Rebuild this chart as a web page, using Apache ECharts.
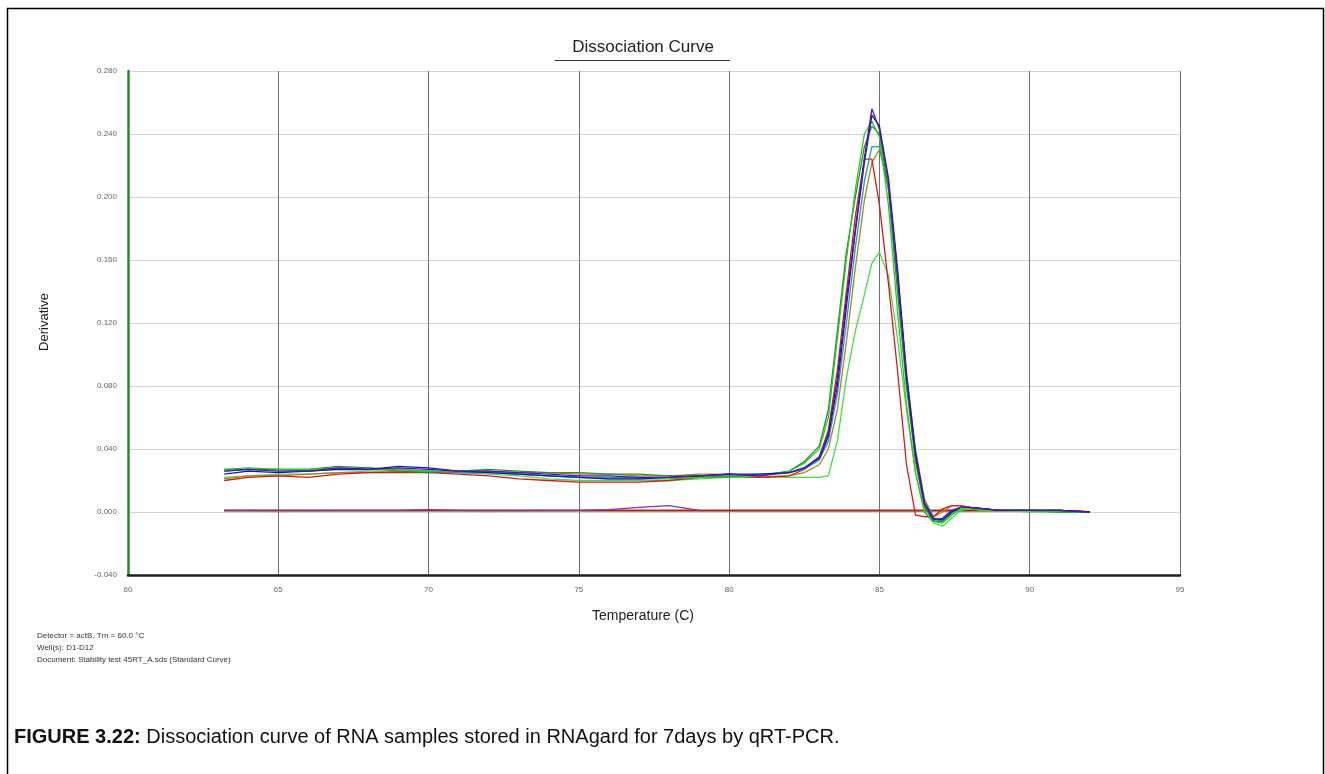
<!DOCTYPE html>
<html>
<head>
<meta charset="utf-8">
<script src="https://cdn.jsdelivr.net/npm/echarts@6/dist/echarts.min.js"></script>
<style>
html,body{margin:0;padding:0;background:#fff;}
#chart{width:1325px;height:774px;}
</style>
</head>
<body>
<div id="chart"></div>
<script>
// Temperature grid (C)
var temps = [63.2, 64, 65, 66, 67, 68, 69, 70, 71, 72, 73, 74, 75, 76, 77, 78, 79, 80, 81, 82, 82.5, 83, 83.3, 83.6, 83.9, 84.2, 84.5, 84.75, 85.0, 85.3, 85.6, 85.9, 86.2, 86.5, 86.8, 87.1, 87.4, 87.7, 88, 88.5, 89, 90, 91, 92];

// Derivative values per well (peak group)
var purplePeak = [0.026,0.027,0.026,0.026,0.028,0.027,0.028,0.027,0.026,0.026,0.025,0.024,0.023,0.023,0.022,0.022,0.023,0.024,0.023,0.025,0.028, 0.035,0.050,0.085,0.135,0.180,0.225,0.256,0.243,0.210,0.150,0.085,0.035,0.005,-0.005,-0.004,0.001,0.003,0.003,0.002,0.001,0.001,0.001,0.000];
var bluePeak = [0.024,0.026,0.025,0.026,0.027,0.027,0.029,0.028,0.026,0.025,0.024,0.023,0.022,0.021,0.021,0.022,0.023,0.024,0.024,0.025,0.028, 0.034,0.048,0.080,0.130,0.178,0.222,0.252,0.245,0.212,0.155,0.088,0.038,0.006,-0.004,-0.005,0.000,0.003,0.003,0.002,0.001,0.001,0.001,0.000];
var greenPeak = [0.027,0.028,0.027,0.027,0.028,0.027,0.027,0.026,0.026,0.026,0.024,0.023,0.022,0.021,0.021,0.021,0.022,0.022,0.023,0.026,0.031, 0.040,0.060,0.110,0.160,0.205,0.240,0.248,0.238,0.195,0.128,0.068,0.025,0.000,-0.006,-0.007,-0.002,0.002,0.002,0.001,0.001,0.001,0.000,0.000];
var darkGreenPeak = [0.026,0.027,0.027,0.027,0.029,0.028,0.026,0.025,0.026,0.027,0.026,0.025,0.025,0.024,0.024,0.023,0.023,0.024,0.023,0.026,0.032, 0.042,0.065,0.115,0.165,0.200,0.232,0.245,0.240,0.205,0.140,0.080,0.032,0.003,-0.006,-0.006,-0.001,0.003,0.003,0.002,0.001,0.001,0.000,0.000];
var tealPeak = [0.027,0.027,0.027,0.026,0.027,0.028,0.027,0.026,0.025,0.025,0.024,0.023,0.022,0.022,0.022,0.022,0.023,0.023,0.024,0.025,0.027, 0.033,0.045,0.075,0.120,0.168,0.210,0.232,0.232,0.205,0.148,0.082,0.035,0.004,-0.006,-0.005,0.000,0.003,0.003,0.002,0.001,0.001,0.000,0.000];
var olivePeak = [0.021,0.023,0.023,0.024,0.025,0.025,0.026,0.025,0.026,0.026,0.025,0.025,0.024,0.024,0.023,0.023,0.024,0.024,0.022,0.023,0.025, 0.030,0.040,0.065,0.108,0.155,0.198,0.222,0.230,0.208,0.152,0.088,0.040,0.008,-0.003,0.000,0.004,0.004,0.003,0.002,0.001,0.001,0.001,0.000];
var redPeak = [0.020,0.022,0.023,0.022,0.024,0.025,0.025,0.025,0.024,0.023,0.021,0.020,0.019,0.019,0.019,0.020,0.022,0.023,0.022,0.023,0.027, 0.035,0.052,0.090,0.140,0.188,0.224,0.224,0.195,0.145,0.090,0.030,-0.002,-0.003,-0.003,0.002,0.004,0.004,0.003,0.002,0.001,0.001,0.001,0.000];
var lightGreenPeak = [0.022,0.023,0.024,0.024,0.025,0.026,0.026,0.026,0.025,0.024,0.023,0.021,0.020,0.020,0.020,0.020,0.021,0.022,0.022,0.022,0.022, 0.022,0.023,0.045,0.085,0.115,0.138,0.158,0.165,0.150,0.110,0.065,0.025,0.000,-0.007,-0.009,-0.004,0.001,0.002,0.001,0.001,0.000,0.000,0.000];

// Near-zero group (no product)
var blueFlat = [0.001,0.001,0.001,0.001,0.001,0.001,0.001,0.001,0.001,0.001,0.001,0.001,0.001,0.001,0.001,0.001,0.001,0.001,0.001,0.001,0.001,0.001,0.001,0.001,0.001,0.001,0.001,0.001,0.001,0.001,0.001,0.001,0.001,0.001,0.001,0.001,0.001,0.001,0.001,0.001,0.001,0.001,0.001,0.000];
var purpleFlat = [0.001,0.001,0.001,0.001,0.001,0.001,0.001,0.001,0.001,0.001,0.001,0.001,0.001,0.0015,0.003,0.004,0.001,null,null,null,null,null,null,null,null,null,null,null,null,null,null,null,null,null,null,null,null,null,null,null,null,null,null,null];
var redFlat = [0.001,0.001,0.001,0.001,0.001,0.001,0.001,0.0015,0.001,0.001,0.001,0.001,0.001,0.001,0.001,0.001,0.001,0.001,0.001,0.001,0.001,0.001,0.001,0.001,0.001,0.001,0.001,0.001,0.001,0.001,0.001,0.001,0.001,0.001,0.001,0.001,0.001,0.001,0.001,0.001,0.001,0.001,0.001,0.000];
var oliveFlat = [0.0005,0.0005,0.0003,0.0005,0.0005,0.0005,0.0005,0.0005,0.0005,0.0003,0.0005,0.0005,0.0005,0.0005,0.0005,0.0005,0.0005,0.0005,0.0005,0.0005,0.0005,0.0005,0.0005,0.0005,0.0005,0.0005,0.0005,0.0005,0.0005,0.0005,0.0005,0.0005,0.0005,0.0005,0.0005,0.0005,0.0005,0.0005,0.0005,0.0005,0.0005,0.0005,0.0005,0.0003];
var greyFlat = [0.0008,0.0008,0.0008,0.0005,0.0008,0.0008,0.0008,0.0008,0.0008,0.0008,0.0005,0.0008,0.0008,0.0008,0.0008,0.0008,0.0008,0.0005,0.0005,0.0005,0.0005,0.0005,0.0005,0.0005,0.0005,0.0005,0.0005,0.0005,0.0005,0.0005,0.0005,0.0005,0.0005,0.0005,0.0005,0.0005,0.0005,0.0005,0.0005,0.0008,0.0008,0.0005,0.0005,0.0003];

var xTicks = {min: 60, max: 95, interval: 5};
var yTicks = {min: -0.04, max: 0.28, interval: 0.04};

var wells = [
  {name: 'D-flat1', data: blueFlat, color: '#2a2a9a'},
  {name: 'D-flat2', data: greyFlat, color: '#5a7a5a'},
  {name: 'D-flat3', data: oliveFlat, color: '#a09030'},
  {name: 'D-flat4', data: redFlat, color: '#c01030'},
  {name: 'D-flat5', data: purpleFlat, color: '#9030a0'},
  {name: 'D-lightgreen', data: lightGreenPeak, color: '#44dd44'},
  {name: 'D-olive', data: olivePeak, color: '#a8861a'},
  {name: 'D-red', data: redPeak, color: '#d81818'},
  {name: 'D-teal', data: tealPeak, color: '#1aa0a0'},
  {name: 'D-darkgreen', data: darkGreenPeak, color: '#2e8b2e'},
  {name: 'D-green', data: greenPeak, color: '#22cc22'},
  {name: 'D-blue', data: bluePeak, color: '#1414c8'},
  {name: 'D-purple', data: purplePeak, color: '#5a10a8'}
];

function pairs(arr) {
  var out = [];
  for (var i = 0; i < temps.length; i++) {
    out.push(arr[i] === null ? [temps[i], null] : [temps[i], arr[i]]);
  }
  return out;
}

var chart = echarts.init(document.getElementById('chart'), null, {renderer: 'canvas'});
var font = 'Arial, "Liberation Sans", Helvetica, sans-serif';

var option = {
  animation: false,
  backgroundColor: '#fff',
  grid: {left: 128, right: 145, top: 71, bottom: 199, containLabel: false},
  xAxis: {
    type: 'value',
    min: xTicks.min, max: xTicks.max, interval: xTicks.interval,
    axisLine: {show: true, onZero: false, lineStyle: {color: '#222', width: 2.5}},
    axisTick: {show: false},
    axisLabel: {color: '#666', fontSize: 8, fontFamily: font, margin: 11},
    splitLine: {show: true, lineStyle: {color: '#707070', width: 1}}
  },
  yAxis: {
    type: 'value',
    min: yTicks.min, max: yTicks.max, interval: yTicks.interval,
    axisLine: {show: true, onZero: false, lineStyle: {color: '#2a8a2a', width: 2.5}},
    axisTick: {show: false},
    axisLabel: {color: '#666', fontSize: 8, fontFamily: font, margin: 11,
      formatter: function (v) { return v.toFixed(3); }},
    splitLine: {show: true, lineStyle: {color: '#d4d4d4', width: 1}}
  },
  series: wells.map(function (w) {
    return {
      name: w.name,
      type: 'line',
      data: pairs(w.data),
      showSymbol: false,
      symbol: 'none',
      connectNulls: false,
      lineStyle: {color: w.color, width: 1.3},
      itemStyle: {color: w.color},
      z: 3
    };
  }),
  graphic: [
    {type: 'rect', shape: {x: 7.5, y: 8.5, width: 1316, height: 800},
     style: {fill: 'none', stroke: '#000', lineWidth: 1.5}, silent: true, z: 0},
    {type: 'text', x: 643, y: 47, style: {text: 'Dissociation Curve', font: '17px ' + font,
      fill: '#222', textAlign: 'center', textVerticalAlign: 'middle'}},
    {type: 'line', shape: {x1: 555, y1: 60.5, x2: 730, y2: 60.5}, style: {stroke: '#333', lineWidth: 1}},
    {type: 'text', x: 44, y: 322, rotation: Math.PI / 2, style: {text: 'Derivative', font: '13px ' + font,
      fill: '#222', textAlign: 'center', textVerticalAlign: 'middle'}},
    {type: 'text', x: 643, y: 616, style: {text: 'Temperature (C)', font: '14px ' + font,
      fill: '#222', textAlign: 'center', textVerticalAlign: 'middle'}},
    {type: 'text', x: 37, y: 636, style: {text: 'Detector = actB, Tm = 60.0 \u00B0C', font: '8px ' + font,
      fill: '#333', textVerticalAlign: 'middle'}},
    {type: 'text', x: 37, y: 648, style: {text: 'Well(s): D1-D12', font: '8px ' + font,
      fill: '#333', textVerticalAlign: 'middle'}},
    {type: 'text', x: 37, y: 660, style: {text: 'Document: Stability test 45RT_A.sds (Standard Curve)', font: '8px ' + font,
      fill: '#333', textVerticalAlign: 'middle'}},
    {type: 'text', x: 14, y: 737, style: {
      text: '{b|FIGURE 3.22:} Dissociation curve of RNA samples stored in RNAgard for 7days by qRT-PCR.',
      font: '20px ' + font, fill: '#111', textVerticalAlign: 'middle',
      rich: {b: {font: 'bold 20px ' + font, fill: '#111'}}}}
  ]
};
chart.setOption(option);
</script>
</body>
</html>
